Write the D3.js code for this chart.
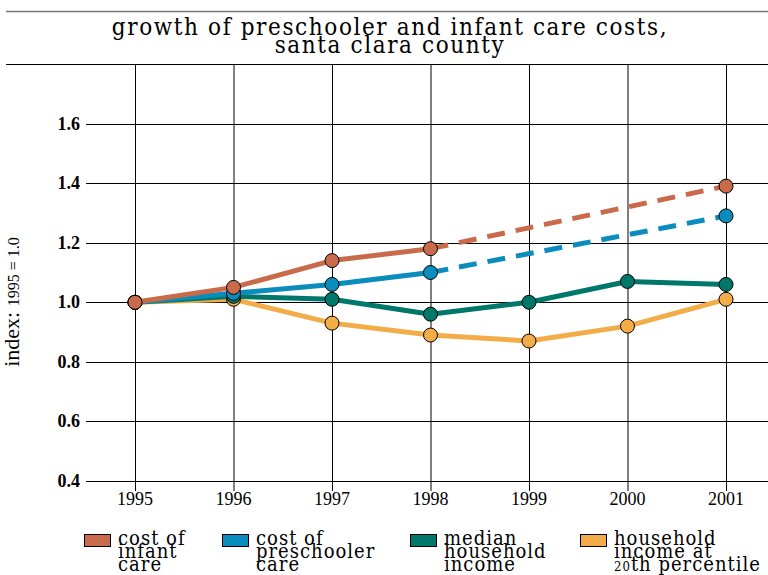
<!DOCTYPE html>
<html>
<head>
<meta charset="utf-8">
<script src="https://cdn.jsdelivr.net/npm/d3@7"></script>
<style>
  body { margin: 0; background: #fff; }
  svg { display: block; font-family: "DejaVu Serif Condensed", "DejaVu Serif", serif; }
</style>
</head>
<body>
<svg id="chart" width="768" height="575"></svg>
<script>
// data
const years = [1995, 1996, 1997, 1998, 1999, 2000, 2001];
const infantCare = [1.0, 1.05, 1.14, 1.18, null, null, 1.39];
const preschoolCare = [1.0, 1.03, 1.06, 1.10, null, null, 1.29];
const medianIncome = [1.0, 1.02, 1.01, 0.96, 1.00, 1.07, 1.06];
const income20th = [1.0, 1.01, 0.93, 0.89, 0.87, 0.92, 1.01];
const yTicks = [0.4, 0.6, 0.8, 1.0, 1.2, 1.4, 1.6];

const series = [
  { label: ["cost of", "infant", "care"], values: infantCare, color: "#c96a4b", dashFrom: 1998 },
  { label: ["cost of", "preschooler", "care"], values: preschoolCare, color: "#0a8dbd", dashFrom: 1998 },
  { label: ["median", "household", "income"], values: medianIncome, color: "#00776b" },
  { label: ["household", "income at", ["20", "th percentile"]], values: income20th, color: "#f2ac48" }
];

const svg = d3.select('#chart');

const x = d3.scaleLinear().domain([1995, 2001]).range([135, 726]);
const y = d3.scaleLinear().domain([0.4, 1.8]).range([481, 64]);

// frame lines around the title
svg.append('line').attr('x1', 6).attr('x2', 768).attr('y1', 11.5).attr('y2', 11.5)
  .attr('stroke', '#777').attr('stroke-width', 1.5);
svg.append('line').attr('x1', 6).attr('x2', 768).attr('y1', 64.5).attr('y2', 64.5)
  .attr('stroke', '#000').attr('stroke-width', 1.2);

// title
const title = svg.append('text').attr('text-anchor', 'middle')
  .attr('font-size', 24).attr('letter-spacing', 1.6);
title.append('tspan').attr('x', 390).attr('y', 35).text('growth of preschooler and infant care costs,');
title.append('tspan').attr('x', 390).attr('y', 53).text('santa clara county');

// grid
svg.append('g').selectAll('line.v').data(years).join('line')
  .attr('x1', d => x(d) + 0.5).attr('x2', d => x(d) + 0.5)
  .attr('y1', 64).attr('y2', 491)
  .attr('stroke', '#000').attr('stroke-width', 1);

svg.append('g').selectAll('line.h').data(yTicks).join('line')
  .attr('x1', 86).attr('x2', 768)
  .attr('y1', d => Math.round(y(d)) + 0.5).attr('y2', d => Math.round(y(d)) + 0.5)
  .attr('stroke', '#000').attr('stroke-width', 1);

// tick labels
svg.append('g').selectAll('text').data(yTicks).join('text')
  .attr('x', 80).attr('y', d => y(d) + 6)
  .attr('text-anchor', 'end').attr('font-size', 18).attr('font-weight', 'bold')
  .attr('font-family', 'Liberation Serif')
  .text(d => d.toFixed(1));

svg.append('g').selectAll('text').data(years).join('text')
  .attr('x', d => x(d)).attr('y', 505)
  .attr('text-anchor', 'middle').attr('font-size', 18)
  .attr('font-family', 'Liberation Serif')
  .text(d => d);

// y axis label
const yl = svg.append('text').attr('transform', 'translate(19,302) rotate(-90)')
  .attr('text-anchor', 'middle').attr('font-size', 22).attr('font-family', 'Liberation Serif');
yl.append('tspan').text('index: ');
yl.append('tspan').attr('font-size', 16).text('1995 = 1.0');

// lines, drawn bottom series first
const line = d3.line().x(d => x(d[0])).y(d => y(d[1]));
const plot = svg.append('g');
series.slice().reverse().forEach(s => {
  const pts = years.map((yr, i) => [yr, s.values[i]]).filter(p => p[1] != null);
  const solid = s.dashFrom ? pts.filter(p => p[0] <= s.dashFrom) : pts;
  plot.append('path').datum(solid).attr('d', line)
    .attr('fill', 'none').attr('stroke', s.color).attr('stroke-width', 5)
    .attr('stroke-linejoin', 'round');
  if (s.dashFrom) {
    const dashed = pts.filter(p => p[0] >= s.dashFrom);
    plot.append('path').datum(dashed).attr('d', line)
      .attr('fill', 'none').attr('stroke', s.color).attr('stroke-width', 5)
      .attr('stroke-dasharray', '18,11');
  }
  plot.selectAll(null).data(pts).join('circle')
    .attr('cx', d => x(d[0])).attr('cy', d => y(d[1])).attr('r', 7)
    .attr('fill', s.color).attr('stroke', '#000').attr('stroke-width', 1);
});

// legend
const legendX = [84, 222, 410, 580];
const legend = svg.append('g');
series.forEach((s, i) => {
  const g = legend.append('g').attr('transform', `translate(${legendX[i]},0)`);
  g.append('rect').attr('x', 0.5).attr('y', 534.5).attr('width', 26).attr('height', 12)
    .attr('fill', s.color).attr('stroke', '#000').attr('stroke-width', 1);
  const t = g.append('text').attr('font-size', 20).attr('letter-spacing', 1);
  s.label.forEach((ln, j) => {
    const ts = t.append('tspan').attr('x', 34).attr('y', 545 + j * 13);
    if (Array.isArray(ln)) {
      ts.append('tspan').attr('font-size', 13).text(ln[0]);
      ts.append('tspan').text(ln[1]);
    } else {
      ts.text(ln);
    }
  });
});
</script>
</body>
</html>
